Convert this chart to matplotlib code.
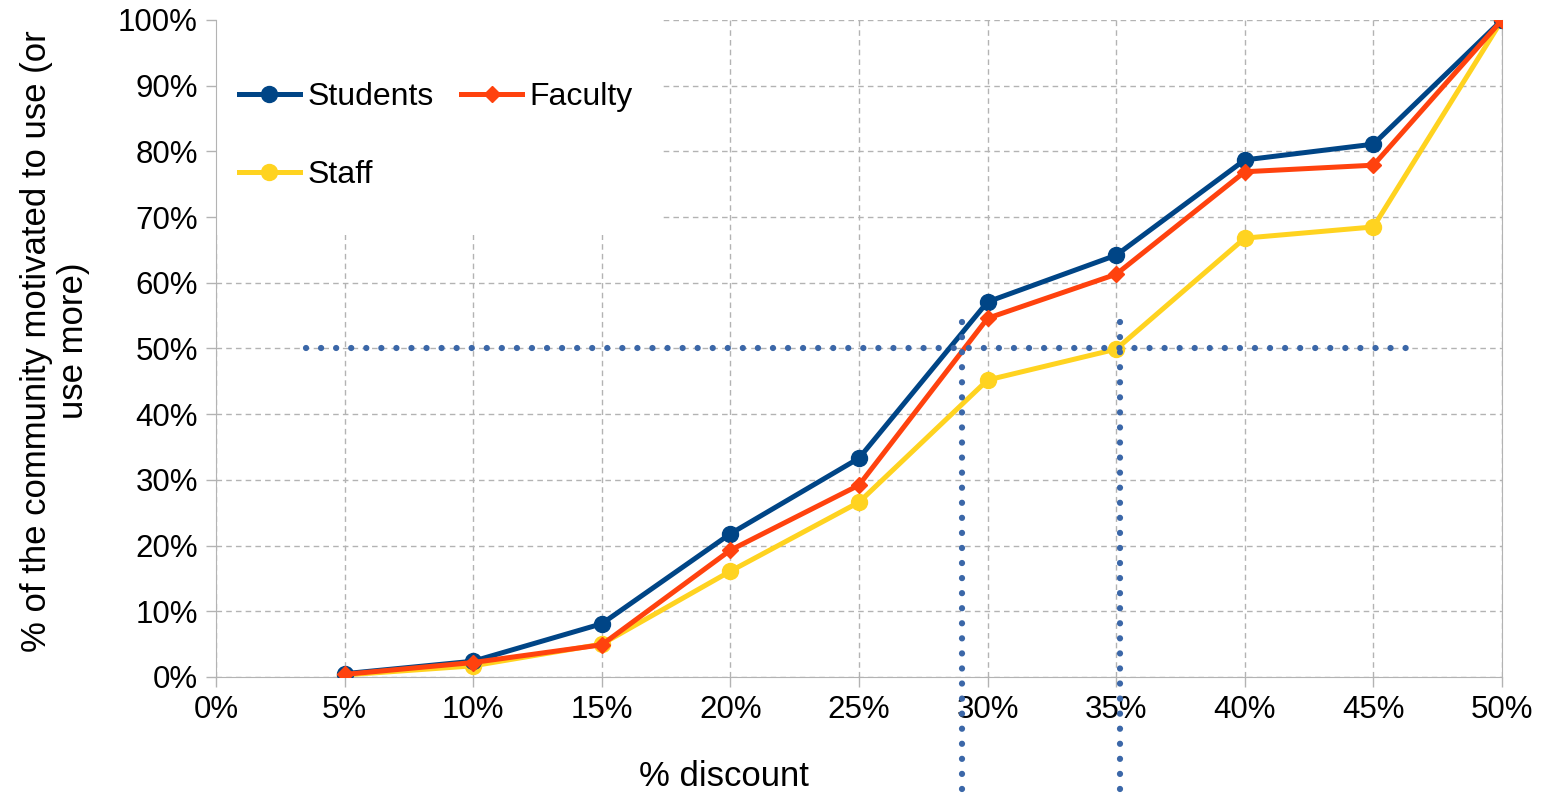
import matplotlib.pyplot as plt
from matplotlib.patches import Rectangle
from matplotlib.ticker import FuncFormatter

plt.rcParams['font.family'] = ['Liberation Sans', 'DejaVu Sans']

# discount levels (%) and share of each group motivated (%)
discount = [5, 10, 15, 20, 25, 30, 35, 40, 45, 50]
students = [0.5, 2.4, 8.1, 21.8, 33.3, 57.1, 64.2, 78.7, 81.1, 100]
faculty = [0.4, 2.2, 4.9, 19.3, 29.2, 54.6, 61.3, 76.9, 77.9, 100]
staff = [0.3, 1.7, 5.0, 16.1, 26.6, 45.2, 49.9, 66.8, 68.5, 100]

# 50% guide lines
half_level = 50
half_span = [3.5, 46.7]
cross_students = 29.0
cross_staff = 35.15

fig = plt.figure(figsize=(15.48, 7.93), dpi=100)
ax = fig.add_axes([0.1395, 0.1463, 0.8308, 0.8285])

l_st, = ax.plot(discount, students, color='#004586', lw=3.6, marker='o', ms=11.5, label='Students', zorder=3)
l_fa, = ax.plot(discount, faculty, color='#ff420e', lw=3.6, marker='D', ms=8.5, label='Faculty', zorder=3)
l_sf, = ax.plot(discount, staff, color='#ffd320', lw=3.6, marker='o', ms=11.5, label='Staff', zorder=2.5)

dot = dict(color='#3b67a8', lw=4.5, ls=(0, (0.01, 2.4)), dash_capstyle='round', clip_on=False, zorder=4)
ax.plot(half_span, [half_level, half_level], **dot)
ax.plot([cross_students, cross_students], [54, -30], **dot)
ax.plot([cross_staff, cross_staff], [54, -30], **dot)

ax.set_xlim(0, 50)
ax.set_ylim(0, 100)
ax.set_xticks(range(0, 51, 5))
ax.set_yticks(range(0, 101, 10))
pct = FuncFormatter(lambda v, p: '%d%%' % v)
ax.xaxis.set_major_formatter(pct)
ax.yaxis.set_major_formatter(pct)
ax.tick_params(labelsize=22.5, length=7, color='#b3b3b3', width=1, pad=6)

ax.set_axisbelow(True)
ax.grid(True, color='#b3b3b3', ls=(0, (4, 3)), lw=1)
for s in ['left', 'bottom', 'right']:
    ax.spines[s].set_color('#b3b3b3')
ax.spines['top'].set_visible(False)

fig.text(724 / 1548, 1 - 776 / 793, '% discount', fontsize=25, ha='center', va='center')
fig.text(55 / 1548, 1 - 341 / 793, '% of the community motivated to use (or\nuse more)',
         fontsize=25, rotation=90, ha='center', va='center', multialignment='center',
         linespacing=1.15)

# white panel behind the legend
ax.add_patch(Rectangle((0, 0.673), 0.347, 0.327, transform=ax.transAxes,
                       facecolor='white', edgecolor='none', zorder=1))
ax.legend([l_st, l_sf, l_fa], ['Students', 'Staff', 'Faculty'],
          loc='upper left', bbox_to_anchor=(0.018, 0.905), ncol=2, frameon=False,
          fontsize=23, handlelength=1.9, handletextpad=0.25, columnspacing=0.85,
          labelspacing=1.5, borderpad=0, borderaxespad=0)

fig.savefig('out.png')
